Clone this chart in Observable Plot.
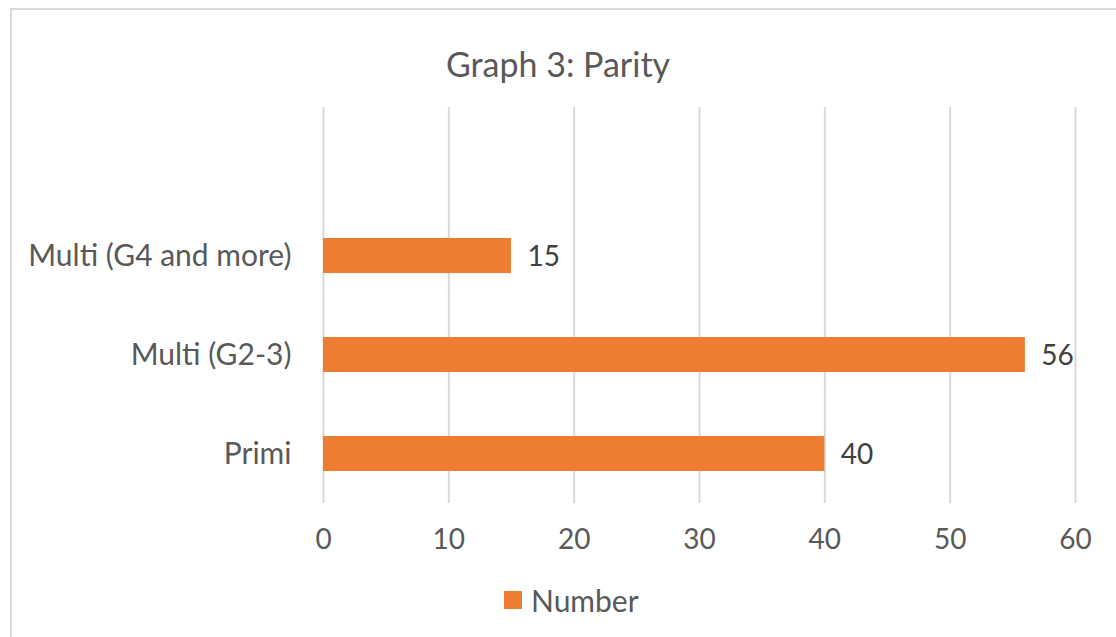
<!DOCTYPE html>
<html><head><meta charset="utf-8">
<script src="https://cdn.jsdelivr.net/npm/d3@7"></script>
<script src="https://cdn.jsdelivr.net/npm/@observablehq/plot@0.6"></script>
<style>
body{margin:0;background:#fff;font-family:Lato,"Open Sans",sans-serif;}
#wrap{position:relative;width:1116px;height:637px;overflow:hidden;}
#frame{position:absolute;left:10px;top:8px;width:1200px;height:700px;border:2px solid #d9d9d9;box-sizing:border-box;}
#title{position:absolute;left:0;width:1116px;top:43px;text-align:center;font-size:34px;color:#595959;}
#legend{position:absolute;left:504px;top:582px;font-size:30px;color:#595959;display:flex;align-items:center;}
#legend span.sw{display:inline-block;width:18px;height:18px;background:#ED7D31;margin-right:9px;}
#chart{position:absolute;left:0;top:0;}
</style></head>
<body><div id="wrap"><div id="frame"></div><div id="title">Graph 3: Parity</div><div id="chart"></div>
<div id="legend"><span class="sw"></span><span>Number</span></div></div>
<script>
const categories = ["Primi", "Multi (G2-3)", "Multi (G4 and more)"];
const values = [40, 56, 15];
const xTicks = [0, 10, 20, 30, 40, 50, 60];
const seriesName = "Number";

const data = categories.map((c, i) => ({category: c, value: values[i]}));
const yDomain = [" ", ...categories.slice().reverse()];

const chart = Plot.plot({
  width: 1116,
  height: 560,
  marginTop: 107,
  marginBottom: 57,
  marginLeft: 323,
  marginRight: 41,
  style: {fontFamily: "Lato, 'Open Sans', sans-serif", fontSize: "27px", color: "#595959", background: "transparent"},
  x: {domain: [0, 60], ticks: xTicks, label: null},
  y: {domain: yDomain, paddingInner: 0.65, paddingOuter: 0.325, label: null},
  marks: [
    Plot.ruleX(xTicks, {stroke: "#d9d9d9", strokeWidth: 2, strokeOpacity: 1}),
    Plot.barX(data, {x: "value", y: "category", fill: "#ED7D31"}),
    Plot.text(data, {x: "value", y: "category", text: d => String(d.value), textAnchor: "start", dx: 16, dy: 1, fill: "#404040", fontSize: 28}),
    Plot.axisX({ticks: xTicks, tickSize: 0, tickPadding: 26, fontSize: 28, fill: "#595959"}),
    Plot.axisY({tickSize: 0, tickPadding: 32, fontSize: 30, fill: "#595959", tickFormat: d => d})
  ]
});
document.getElementById("chart").appendChild(chart);
</script></body></html>
